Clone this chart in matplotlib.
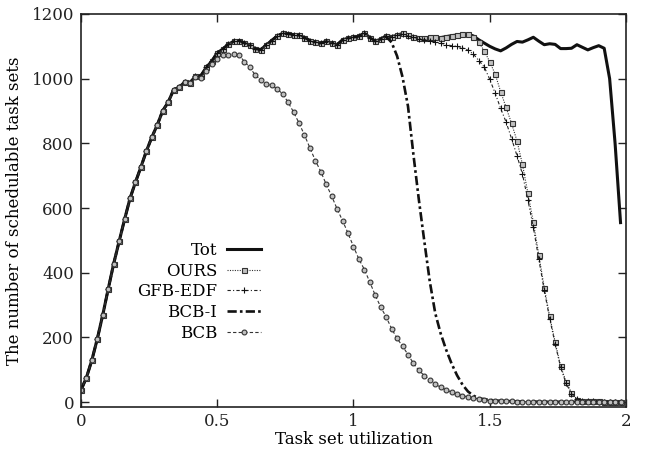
import matplotlib
matplotlib.use("Agg")
import matplotlib.pyplot as plt
import numpy as np

plt.rcParams['font.family'] = ['DejaVu Serif']
plt.rcParams['font.size'] = 12

# utilization grid, step 0.02
util = np.linspace(0, 1.98, 100)

tot = [37, 76, 130, 196, 270, 350, 428, 497, 565, 630, 680, 727, 776, 819, 857, 901, 927, 966, 973, 989,
       988, 1007, 1009, 1035, 1054, 1080, 1091, 1106, 1115, 1118, 1110, 1104, 1092, 1090, 1104, 1118, 1132, 1140, 1139, 1136,
       1134, 1127, 1118, 1113, 1110, 1115, 1111, 1105, 1120, 1125, 1128, 1131, 1141, 1127, 1116, 1122, 1133, 1130, 1134, 1140,
       1134, 1130, 1127, 1126, 1128, 1128, 1127, 1130, 1133, 1135, 1137, 1138, 1132, 1120, 1110, 1100, 1092, 1086, 1095, 1106,
       1115, 1113, 1120, 1128, 1116, 1105, 1108, 1106, 1093, 1093, 1094, 1105, 1097, 1089, 1096, 1102, 1094, 1000, 800, 555]

ours = [37, 76, 130, 196, 270, 350, 428, 497, 565, 630, 680, 727, 776, 819, 857, 901, 927, 966, 973, 989,
        988, 1007, 1009, 1035, 1054, 1080, 1091, 1106, 1115, 1118, 1110, 1104, 1092, 1090, 1104, 1118, 1132, 1140, 1139, 1136,
        1134, 1127, 1118, 1113, 1110, 1115, 1111, 1105, 1120, 1125, 1128, 1131, 1141, 1127, 1116, 1122, 1133, 1130, 1134, 1140,
        1134, 1130, 1127, 1126, 1128, 1128, 1127, 1130, 1133, 1135, 1137, 1138, 1130, 1112, 1086, 1052, 1014, 960, 911, 862,
        808, 735, 646, 556, 456, 354, 265, 186, 112, 63, 29, 8, 3, 2, 2, 2, 1, 1, 1, 1]

gfb_edf = [37, 76, 130, 196, 270, 350, 428, 497, 565, 630, 680, 727, 776, 819, 857, 901, 927, 966, 973, 989,
           988, 1007, 1009, 1035, 1054, 1080, 1091, 1106, 1115, 1118, 1110, 1104, 1092, 1090, 1104, 1118, 1132, 1140, 1139, 1136,
           1134, 1127, 1118, 1113, 1110, 1115, 1111, 1105, 1120, 1125, 1128, 1131, 1141, 1127, 1116, 1122, 1133, 1130, 1134, 1138,
           1132, 1128, 1124, 1121, 1118, 1114, 1110, 1105, 1102, 1100, 1096, 1088, 1076, 1056, 1036, 998, 955, 908, 866, 815,
           762, 705, 625, 540, 442, 346, 258, 180, 108, 58, 26, 10, 4, 2, 2, 1, 1, 1, 1, 1]

bcb_i = [37, 76, 130, 196, 270, 350, 428, 497, 565, 630, 680, 727, 776, 819, 857, 901, 927, 966, 973, 989,
         988, 1007, 1009, 1035, 1054, 1080, 1091, 1106, 1115, 1118, 1110, 1104, 1092, 1090, 1104, 1118, 1132, 1140, 1139, 1136,
         1134, 1127, 1118, 1113, 1110, 1115, 1111, 1105, 1120, 1125, 1128, 1131, 1141, 1127, 1116, 1122, 1130, 1112, 1070, 1005,
         915, 765, 625, 497, 373, 275, 212, 162, 119, 83, 54, 33, 20, 12, 9, 7, 5, 4, 3, 3,
         2, 2, 2, 2, 1, 1, 1, 1, 1, 1, 1, 1, 1, 1, 1, 1, 1, 1, 1, 1]

bcb = [37, 76, 130, 196, 270, 350, 428, 497, 565, 630, 680, 727, 776, 819, 857, 901, 927, 966, 973, 989,
       988, 1004, 1003, 1025, 1045, 1060, 1072, 1074, 1075, 1074, 1052, 1035, 1010, 996, 983, 980, 968, 953, 927, 897,
       863, 826, 786, 747, 713, 673, 637, 597, 561, 522, 481, 442, 410, 371, 330, 294, 263, 227, 197, 173,
       147, 120, 98, 82, 68, 56, 46, 38, 31, 25, 20, 16, 13, 10, 7, 5, 4, 3, 2, 2,
       1, 1, 1, 1, 1, 1, 1, 1, 1, 1, 1, 1, 1, 1, 1, 1, 1, 1, 1, 1]

fig = plt.figure(figsize=(6.52, 4.51), dpi=100)
ax = fig.add_axes([0.1242, 0.0976, 0.8359, 0.8714])

ax.plot(util, tot, color='#111111', lw=2.2, label='Tot')
ax.plot(util, ours, color='#333333', lw=0.8, ls=(0, (1, 1.2)), marker='s', ms=3.6,
        mfc='#c0c0c0', mec='#333333', mew=0.8, label='OURS')
ax.plot(util, gfb_edf, color='#222222', lw=0.8, ls=(0, (3, 2, 1, 2)), marker='+', ms=4.5,
        mec='#111111', mew=0.8, label='GFB-EDF')
ax.plot(util, bcb_i, color='#111111', lw=1.9, ls=(0, (3.5, 1.2, 1, 1.2)), label='BCB-I')
ax.plot(util, bcb, color='#333333', lw=0.8, ls=(0, (3, 2)), marker='o', ms=3.5,
        mfc='#c0c0c0', mec='#333333', mew=0.8, label='BCB')

ax.set_xlim(0, 2)
ax.set_ylim(-15, 1200)
ax.set_xticks([0, 0.5, 1, 1.5, 2])
ax.set_xticklabels(['0', '0.5', '1', '1.5', '2'])
ax.set_yticks([0, 200, 400, 600, 800, 1000, 1200])
ax.tick_params(direction='in', length=6, width=1, top=True, right=True, colors='#222222')
ax.tick_params(axis='y', pad=5)
ax.tick_params(axis='x', pad=4)
for s in ax.spines.values():
    s.set_linewidth(1.2)
    s.set_color('#222222')

ax.set_xlabel('Task set utilization', labelpad=1)
ax.set_ylabel('The number of schedulable task sets', labelpad=6)

ax.legend(loc='center right', bbox_to_anchor=(0.345, 0.293), frameon=False, markerfirst=False,
          handlelength=2.0, handletextpad=0.6, labelspacing=0.22, borderpad=0)

fig.savefig('out.png', dpi=100)
